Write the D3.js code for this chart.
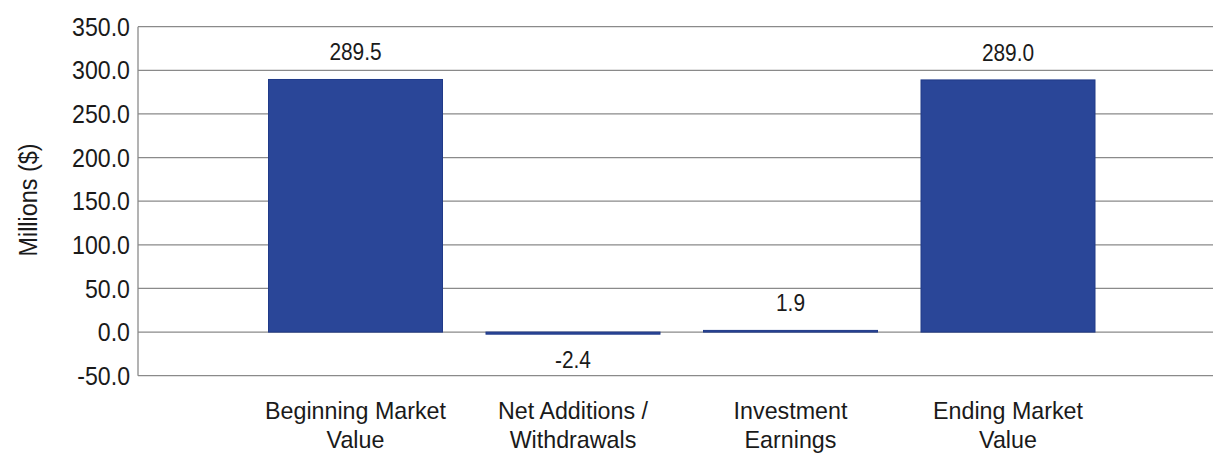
<!DOCTYPE html>
<html><head><meta charset="utf-8">
<script src="https://cdn.jsdelivr.net/npm/d3@7"></script>
<style>html,body{margin:0;padding:0;background:#fff;overflow:hidden}</style>
</head><body>
<svg id="c" width="1213" height="454"></svg>
<script>
const categories = [["Beginning Market","Value"],["Net Additions /","Withdrawals"],["Investment","Earnings"],["Ending Market","Value"]];
const values = [289.5, -2.4, 1.9, 289.0];
const valueLabels = ["289.5","-2.4","1.9","289.0"];
const tickValues = [-50,0,50,100,150,200,250,300,350];
const tickLabels = ["-50.0","0.0","50.0","100.0","150.0","200.0","250.0","300.0","350.0"];
const yTitle = "Millions ($)";

(function () {
const svg = d3.select("#c");
const pLeft = 138, pRight = 1225.5, pTop = 26.7, pBottom = 375.7;
const y = d3.scaleLinear().domain([-50,350]).range([pBottom, pTop]);
const x = d3.scaleBand().domain(d3.range(categories.length)).range([pLeft, pRight]).paddingInner(0.2).paddingOuter(0.6);
const font = "'Liberation Sans', Arial, sans-serif";
const txt = "#1a1a1a";

// gridlines
svg.append("g").selectAll("line").data(tickValues).join("line")
  .attr("x1", pLeft).attr("x2", 1213)
  .attr("y1", d => y(d)).attr("y2", d => y(d))
  .attr("stroke", "#8a8a8a").attr("stroke-width", 1.3);
// left axis line
svg.append("line").attr("x1", pLeft).attr("x2", pLeft).attr("y1", pTop).attr("y2", pBottom)
  .attr("stroke", "#8a8a8a").attr("stroke-width", 1.3);

// tick labels
svg.append("g").selectAll("text").data(tickValues).join("text")
  .attr("transform", d => `translate(130,${y(d)}) scale(0.89,1)`)
  .attr("dy", "0.35em").attr("text-anchor", "end")
  .attr("font-family", font).attr("font-size", 26).attr("fill", txt)
  .text((d,i) => tickLabels[i]);

// y title
svg.append("text")
  .attr("transform", `translate(37,200) rotate(-90) scale(0.9,1)`)
  .attr("text-anchor", "middle").attr("font-family", font).attr("font-size", 26).attr("fill", txt)
  .text(yTitle);

// bars
svg.append("g").selectAll("rect").data(values).join("rect")
  .attr("x", (d,i) => x(i)).attr("width", x.bandwidth())
  .attr("y", d => Math.min(y(d), y(0))).attr("height", d => Math.abs(y(d) - y(0)))
  .attr("fill", "#2a4698").attr("stroke", "#203a88").attr("stroke-width", 1);

// value labels
svg.append("g").selectAll("text").data(values).join("text")
  .attr("transform", (d,i) => `translate(${x(i) + x.bandwidth()/2},${d >= 0 ? y(d) - 19 : y(d) + 34}) scale(0.87,1)`)
  .attr("text-anchor", "middle").attr("font-family", font).attr("font-size", 24).attr("fill", txt)
  .text((d,i) => valueLabels[i]);

// category labels
const cg = svg.append("g").selectAll("text").data(categories).join("text")
  .attr("transform", (d,i) => `translate(${x(i) + x.bandwidth()/2},419) scale(0.97,1)`)
  .attr("text-anchor", "middle").attr("font-family", font).attr("font-size", 24).attr("fill", txt);
cg.selectAll("tspan").data(d => d).join("tspan")
  .attr("x", 0).attr("dy", (d,j) => j === 0 ? 0 : 29).text(d => d);
})();
</script>
</body></html>
